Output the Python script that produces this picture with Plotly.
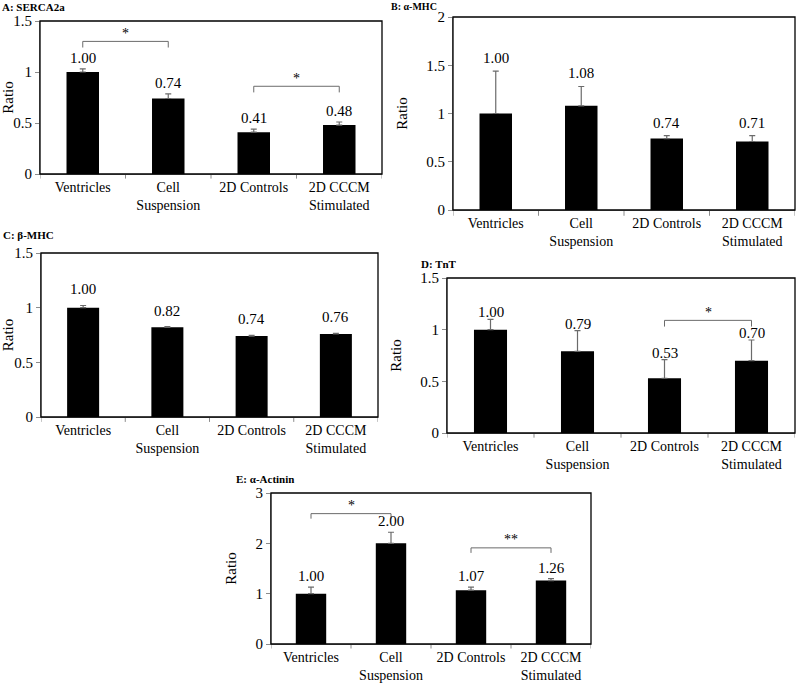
import plotly.graph_objects as go

categories = ["Ventricles", "Cell Suspension", "2D Controls", "2D CCCM Stimulated"]
tick_labels = ["Ventricles", "Cell<br>Suspension", "2D Controls", "2D CCCM<br>Stimulated"]

serca_vals = [1.00, 0.74, 0.41, 0.48]
serca_err = [0.03, 0.045, 0.03, 0.03]
amhc_vals = [1.00, 1.08, 0.74, 0.71]
amhc_err = [0.44, 0.20, 0.03, 0.06]
bmhc_vals = [1.00, 0.82, 0.74, 0.76]
bmhc_err = [0.02, 0.006, 0.006, 0.006]
tnt_vals = [1.00, 0.79, 0.53, 0.70]
tnt_err = [0.10, 0.20, 0.18, 0.20]
actn_vals = [1.00, 2.00, 1.07, 1.26]
actn_err = [0.13, 0.22, 0.06, 0.04]

titles = ["A: SERCA2a", "B: α-MHC", "C: β-MHC", "D: TnT", "E: α-Actinin"]
y_max = [1.5, 2, 1.5, 1.5, 3]
y_dtick = [0.5, 0.5, 0.5, 0.5, 1]

# significance brackets: (first index, second index, bracket level, label)
serca_sig = [(0, 1, 1.30, "*"), (2, 3, 0.86, "*")]
amhc_sig = []
bmhc_sig = []
tnt_sig = [(2, 3, 1.09, "*")]
actn_sig = [(0, 1, 2.59, "*"), (2, 3, 1.91, "**")]

panels = [
    (serca_vals, serca_err, serca_sig),
    (amhc_vals, amhc_err, amhc_sig),
    (bmhc_vals, bmhc_err, bmhc_sig),
    (tnt_vals, tnt_err, tnt_sig),
    (actn_vals, actn_err, actn_sig),
]

W, H = 797, 684
# plot-area pixel boxes (left, top, right, bottom)
boxes = [
    (40, 21, 382, 174),
    (453, 17, 795, 210),
    (41, 253, 378, 417),
    (447, 278, 795, 433),
    (271, 493, 591, 644),
]
# (x, y, anchor) of panel titles in pixels
title_pos = [(1, 0, "top"), (390, 0, "top"), (2, 235, "middle"),
             (420, 264, "middle"), (235, 479, "middle")]
title_size = [11, 10, 11, 11, 11]
label_offsets = [11, 13, 16, 7, 11]  # px above error bar top
tick_h = [0.06, 0.08, 0.06, 0.06, 0.1]

FONT = "Liberation Serif, Times New Roman, serif"
fig = go.Figure()
layout = dict(
    width=W, height=H, margin=dict(l=0, r=0, t=0, b=0, autoexpand=False),
    paper_bgcolor="white", plot_bgcolor="white", showlegend=False,
    font=dict(family=FONT, size=14, color="black"),
    bargap=0.62,
)
shapes = []
annotations = []

for i, ((vals, errs, sigs), (l, t, r, b)) in enumerate(zip(panels, boxes)):
    n = "" if i == 0 else str(i + 1)
    xa, ya = "x" + n, "y" + n
    fig.add_trace(go.Bar(
        x=list(range(len(categories))), y=vals, xaxis=xa, yaxis=ya,
        marker=dict(color="black", line=dict(width=0)),
        error_y=dict(type="data", array=errs, arrayminus=[0] * len(errs),
                     symmetric=False, color="#6b6b6b", thickness=1.2, width=3),
        hoverinfo="skip",
    ))
    layout["xaxis" + n] = dict(
        domain=[l / W, r / W], anchor=ya, range=[-0.5, 3.5], automargin=False,
        tickmode="array", tickvals=list(range(4)), ticktext=tick_labels,
        showline=True, linecolor="#8c8c8c", linewidth=1,
        ticks="", showgrid=False, zeroline=False,
        tickfont=dict(family=FONT, size=14), fixedrange=True,
    )
    layout["yaxis" + n] = dict(
        domain=[1 - b / H, 1 - t / H], anchor=xa, range=[0, y_max[i]],
        automargin=False,
        dtick=y_dtick[i], tick0=0, showline=True, linecolor="#8c8c8c", linewidth=1,
        ticks="outside", ticklen=4, tickcolor="#8c8c8c", showgrid=False,
        zeroline=False, tickfont=dict(family=FONT, size=15),
        title=dict(text="Ratio", font=dict(family=FONT, size=15)),
        fixedrange=True,
    )
    # category boundary ticks
    for k in range(5):
        shapes.append(dict(type="line", xref=xa, yref=ya + " domain",
                           x0=k - 0.5, x1=k - 0.5, y0=0, y1=-0.03,
                           line=dict(color="#8c8c8c", width=1)))
    # plot frame
    shapes.append(dict(type="rect", xref=xa + " domain", yref=ya + " domain",
                       x0=0, x1=1, y0=0, y1=1, line=dict(color="black", width=1.3)))
    # value labels
    for k, (v, e) in enumerate(zip(vals, errs)):
        annotations.append(dict(x=k, y=v + e, xref=xa, yref=ya, text=f"{v:.2f}",
                                showarrow=False, yshift=label_offsets[i],
                                font=dict(family=FONT, size=15)))
    # significance brackets
    for (a, c, lvl, lab) in sigs:
        th = tick_h[i]
        shapes.append(dict(type="path", xref=xa, yref=ya,
                           path=f"M {a} {lvl - th} L {a} {lvl} L {c} {lvl} L {c} {lvl - th}",
                           line=dict(color="#6b6b6b", width=1)))
        annotations.append(dict(x=(a + c) / 2, y=lvl, xref=xa, yref=ya, text=lab,
                                showarrow=False, yshift=8,
                                font=dict(family=FONT, size=14)))
    # panel title
    tx, ty, anc = title_pos[i]
    annotations.append(dict(x=tx / W, y=1 - ty / H, xref="paper", yref="paper",
                            text=f"<b>{titles[i]}</b>", showarrow=False,
                            xanchor="left", yanchor=anc, borderpad=0,
                            font=dict(family=FONT, size=title_size[i])))

layout["shapes"] = shapes
layout["annotations"] = annotations
fig.update_layout(**layout)
fig.write_html("out.html", config={"displayModeBar": False},
               post_script="document.body.style.margin='0';document.body.style.overflow='hidden';")
